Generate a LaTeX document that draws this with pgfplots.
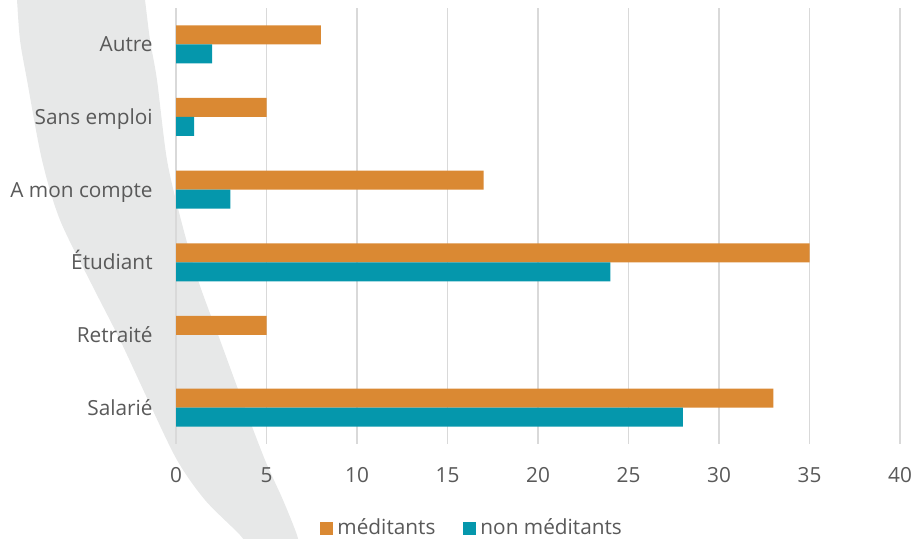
\documentclass[border=0pt]{standalone}
\usepackage{fontspec}
\setmainfont{Open Sans}
\usepackage{pgfplots}
\pgfplotsset{compat=1.18}
\definecolor{orng}{RGB}{218,137,51}
\definecolor{teal2}{RGB}{5,151,172}
\definecolor{gridc}{RGB}{217,217,217}
\definecolor{txt}{RGB}{89,89,89}
\definecolor{band}{RGB}{231,232,232}
\newcommand\f{\fontsize{10.4}{12}\selectfont}
\begin{document}
\begin{tikzpicture}
\useasboundingbox (0,0) rectangle (457pt,269.5pt);
\begin{scope}
\clip (0,0) rectangle (457pt,269.5pt);
\begin{scope}[shift={(0,269.5pt)},x=0.5pt,y=-0.5pt]
\fill[band] plot[smooth] coordinates {(143,-10)(145,0)(150,40)(157,80)(167,160)(181,220)(198,280)(220,340)(242,400)(265,460)(283,500)(297,535)(300,550)}
 -- plot[smooth] coordinates {(250,550)(240,535)(205,500)(177,460)(148,400)(120,340)(92,285)(60,220)(42,160)(27,80)(20,40)(17,0)(16,-10)} -- cycle;
\end{scope}
\end{scope}
\begin{axis}[at={(88pt,47.5pt)}, anchor=south west, scale only axis,
  width=362pt, height=218pt,
  xmin=0, xmax=40, ymin=-0.5, ymax=5.5,
  xtick={0,5,...,40}, ytick={0,...,5},
  yticklabels={Salarié,Retraité,Étudiant,A mon compte,Sans emploi\ ,Autre},
  xmajorgrids, grid style={gridc, line width=0.75pt},
  axis line style={draw=none}, major tick length=0pt,
  tick label style={font=\f, text=txt},
  /pgf/number format/assume math mode=true,
  x tick label style={anchor=center, inner sep=0pt, yshift=-15.5pt},
  y tick label style={anchor=base east, inner sep=0pt, xshift=-11.5pt, yshift=-3.75pt},
  legend columns=2,
  legend style={at={(0.199,-0.193)}, anchor=west, draw=none, fill=none,
    font=\f, text=txt, inner sep=0pt,
    /tikz/every even column/.append style={column sep=12pt}},
  legend image code/.code={\fill[#1] (0pt,-3.25pt) rectangle (6.5pt,3.25pt);},
]
\addplot[xbar, bar width=9.5pt, bar shift=4.75pt, fill=orng, draw=none]
  coordinates {(33,0) (5,1) (35,2) (17,3) (5,4) (8,5)};
\addlegendentry{méditants}
\addplot[xbar, bar width=9.5pt, bar shift=-4.75pt, fill=teal2, draw=none]
  coordinates {(28,0) (24,2) (3,3) (1,4) (2,5)};
\addlegendentry{non méditants}
\end{axis}
\end{tikzpicture}
\end{document}
